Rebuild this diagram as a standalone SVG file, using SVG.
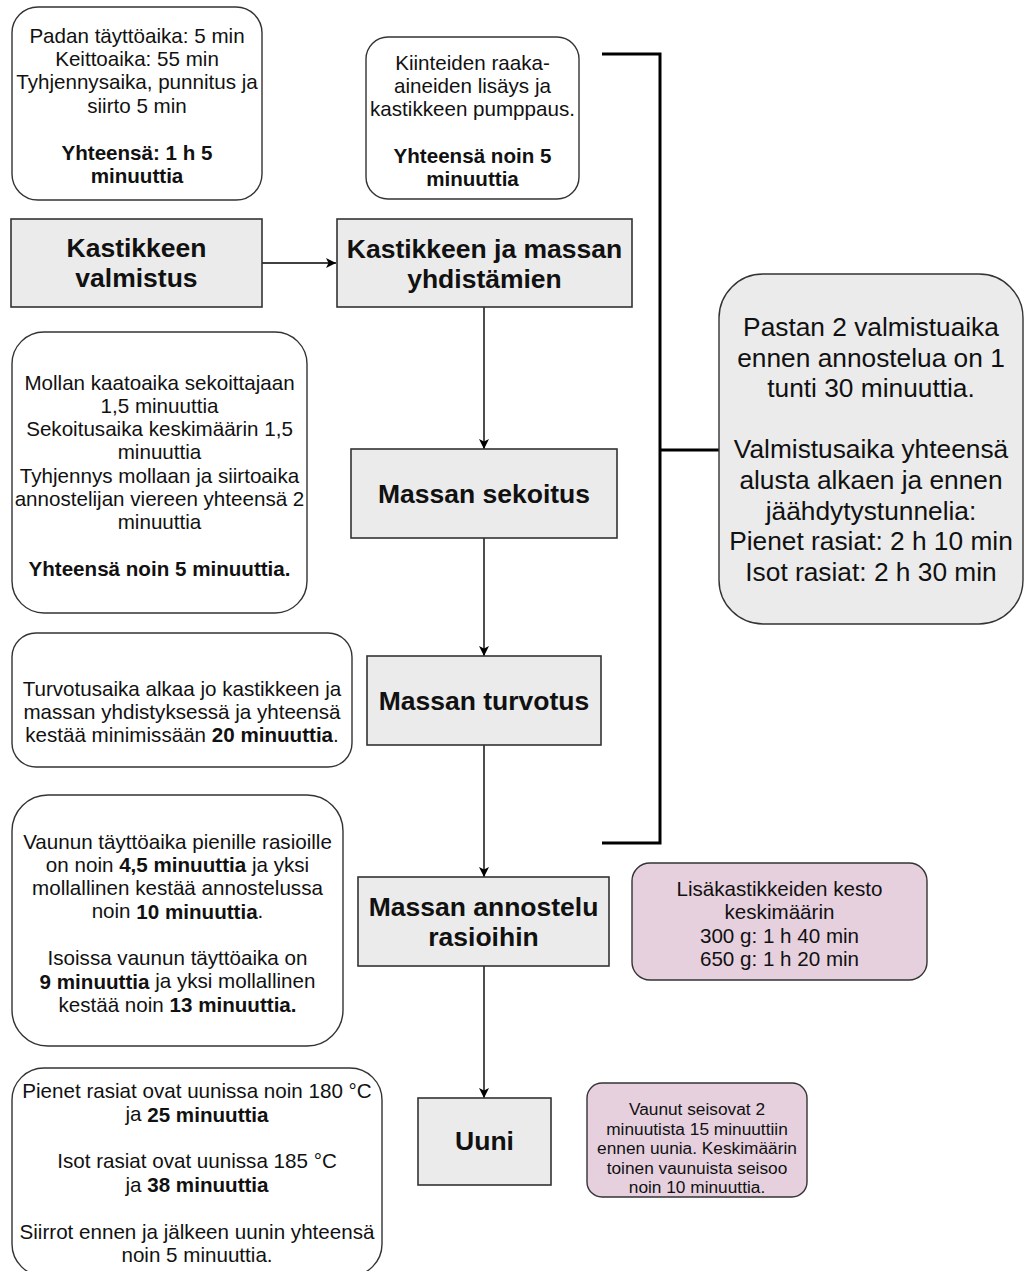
<svg xmlns="http://www.w3.org/2000/svg" width="1025" height="1271" viewBox="0 0 1025 1271">
<defs>
<style>
text{font-family:"Liberation Sans",Arial,Helvetica,sans-serif;fill:#111;text-anchor:middle;dominant-baseline:central}
.note{fill:#fff;stroke:#333;stroke-width:1.4}
.grey{fill:#ebebeb;stroke:#333;stroke-width:1.6}
.pink{fill:#e6d0de;stroke:#333;stroke-width:1.4}
.t{font-size:20.6px}
.s{font-size:17.3px}
.big{font-size:26.3px}
.lbl{font-size:26.5px;font-weight:bold}
.b{font-weight:bold}
.conn{stroke:#000;stroke-width:1.4;fill:none}
.br{stroke:#000;stroke-width:3;fill:none}
</style>
<marker id="arr" viewBox="0 0 10 10" refX="10" refY="5" markerWidth="10" markerHeight="10" markerUnits="userSpaceOnUse" orient="auto">
<path d="M0,0 L10,5 L0,10 L2.5,5 Z" fill="#000"/>
</marker>
</defs>
<rect width="1025" height="1271" fill="#fff"/>

<g id="connectors">
<line class="conn" x1="262" y1="263" x2="336" y2="263" marker-end="url(#arr)"/>
<line class="conn" x1="484" y1="307" x2="484" y2="449" marker-end="url(#arr)"/>
<line class="conn" x1="484" y1="538" x2="484" y2="656" marker-end="url(#arr)"/>
<line class="conn" x1="484" y1="745" x2="484" y2="877" marker-end="url(#arr)"/>
<line class="conn" x1="484" y1="966" x2="484" y2="1098" marker-end="url(#arr)"/>
<polyline class="br" points="602,54 660,54 660,843 602,843"/>
<line class="br" x1="660" y1="450" x2="719" y2="450"/>
</g>

<g id="note-padan">
<rect class="note" x="12" y="7" width="250" height="193" rx="26"/>
<text class="t" x="137" y="35">Padan täyttöaika: 5 min</text>
<text class="t" x="137" y="58.3">Keittoaika: 55 min</text>
<text class="t" x="137" y="81.6">Tyhjennysaika, punnitus ja</text>
<text class="t" x="137" y="105">siirto 5 min</text>
<text class="t b" x="137" y="152">Yhteensä: 1 h 5</text>
<text class="t b" x="137" y="175">minuuttia</text>
</g>

<g id="note-kiinteiden">
<rect class="note" x="366" y="37" width="213" height="162" rx="22"/>
<text class="t" x="472.5" y="62">Kiinteiden raaka-</text>
<text class="t" x="472.5" y="85.3">aineiden lisäys ja</text>
<text class="t" x="472.5" y="108.6">kastikkeen pumppaus.</text>
<text class="t b" x="472.5" y="155.3">Yhteensä noin 5</text>
<text class="t b" x="472.5" y="178.6">minuuttia</text>
</g>

<g id="node-kastikkeen-valmistus">
<rect class="grey" x="11" y="219" width="251" height="88"/>
<text class="lbl" x="136.5" y="248">Kastikkeen</text>
<text class="lbl" x="136.5" y="278">valmistus</text>
</g>

<g id="node-yhdistamien">
<rect class="grey" x="337" y="219" width="295" height="88"/>
<text class="lbl" x="484.5" y="249">Kastikkeen ja massan</text>
<text class="lbl" x="484.5" y="278.5">yhdistämien</text>
</g>

<g id="note-pastan">
<rect x="719" y="274" width="304" height="350" rx="44" fill="#ebebeb" stroke="#333" stroke-width="1.4"/>
<text class="big" x="871" y="327">Pastan 2 valmistuaika</text>
<text class="big" x="871" y="357.6">ennen annostelua on 1</text>
<text class="big" x="871" y="388.2">tunti 30 minuuttia.</text>
<text class="big" x="871" y="449.4">Valmistusaika yhteensä</text>
<text class="big" x="871" y="480">alusta alkaen ja ennen</text>
<text class="big" x="871" y="510.6">jäähdytystunnelia:</text>
<text class="big" x="871" y="541.2">Pienet rasiat: 2 h 10 min</text>
<text class="big" x="871" y="571.8">Isot rasiat: 2 h 30 min</text>
</g>

<g id="note-mollan">
<rect class="note" x="12" y="332" width="295" height="281" rx="32"/>
<text class="t" x="159.5" y="382">Mollan kaatoaika sekoittajaan</text>
<text class="t" x="159.5" y="405.3">1,5 minuuttia</text>
<text class="t" x="159.5" y="428.6">Sekoitusaika keskimäärin 1,5</text>
<text class="t" x="159.5" y="451.9">minuuttia</text>
<text class="t" x="159.5" y="475.2">Tyhjennys mollaan ja siirtoaika</text>
<text class="t" x="159.5" y="498.5">annostelijan viereen yhteensä 2</text>
<text class="t" x="159.5" y="521.8">minuuttia</text>
<text class="t b" x="159.5" y="568.4">Yhteensä noin 5 minuuttia.</text>
</g>

<g id="node-sekoitus">
<rect class="grey" x="351" y="449" width="266" height="89"/>
<text class="lbl" x="484" y="493.5">Massan sekoitus</text>
</g>

<g id="note-turvotus">
<rect class="note" x="12" y="633" width="340" height="134" rx="24"/>
<text class="t" x="182" y="688">Turvotusaika alkaa jo kastikkeen ja</text>
<text class="t" x="182" y="711">massan yhdistyksessä ja yhteensä</text>
<text class="t" x="182" y="734">kestää minimissään <tspan class="b">20 minuuttia</tspan>.</text>
</g>

<g id="node-turvotus">
<rect class="grey" x="367" y="656" width="234" height="89"/>
<text class="lbl" x="484" y="700.5">Massan turvotus</text>
</g>

<g id="note-vaunun">
<rect class="note" x="12" y="795" width="331" height="251" rx="36"/>
<text class="t" x="177.5" y="841">Vaunun täyttöaika pienille rasioille</text>
<text class="t" x="177.5" y="864.3">on noin <tspan class="b">4,5 minuuttia</tspan> ja yksi</text>
<text class="t" x="177.5" y="887.6">mollallinen kestää annostelussa</text>
<text class="t" x="177.5" y="910.9">noin <tspan class="b">10 minuuttia</tspan>.</text>
<text class="t" x="177.5" y="957.5">Isoissa vaunun täyttöaika on</text>
<text class="t" x="177.5" y="980.8"><tspan class="b">9 minuuttia</tspan> ja yksi mollallinen</text>
<text class="t" x="177.5" y="1004.1">kestää noin <tspan class="b">13 minuuttia.</tspan></text>
</g>

<g id="node-annostelu">
<rect class="grey" x="358" y="877" width="251" height="89"/>
<text class="lbl" x="483.5" y="907">Massan annostelu</text>
<text class="lbl" x="483.5" y="937">rasioihin</text>
</g>

<g id="note-lisakastikkeet">
<rect class="pink" x="632" y="863" width="295" height="117" rx="18"/>
<text class="t" x="779.5" y="888">Lisäkastikkeiden kesto</text>
<text class="t" x="779.5" y="911.5">keskimäärin</text>
<text class="t" x="779.5" y="935">300 g: 1 h 40 min</text>
<text class="t" x="779.5" y="958">650 g: 1 h 20 min</text>
</g>

<g id="note-uuni">
<rect class="note" x="12" y="1068" width="370" height="208" rx="32"/>
<text class="t" x="197" y="1090">Pienet rasiat ovat uunissa noin 180 °C</text>
<text class="t" x="197" y="1113.5">ja <tspan class="b">25 minuuttia</tspan></text>
<text class="t" x="197" y="1160.5">Isot rasiat ovat uunissa 185 °C</text>
<text class="t" x="197" y="1184">ja <tspan class="b">38 minuuttia</tspan></text>
<text class="t" x="197" y="1231">Siirrot ennen ja jälkeen uunin yhteensä</text>
<text class="t" x="197" y="1254.5">noin 5 minuuttia.</text>
</g>

<g id="node-uuni">
<rect class="grey" x="418" y="1098" width="133" height="87"/>
<text class="lbl" x="484.5" y="1141">Uuni</text>
</g>

<g id="note-vaunut">
<rect class="pink" x="587" y="1083" width="220" height="114" rx="15"/>
<text class="s" x="697" y="1109">Vaunut seisovat 2</text>
<text class="s" x="697" y="1128.5">minuutista 15 minuuttiin</text>
<text class="s" x="697" y="1148">ennen uunia. Keskimäärin</text>
<text class="s" x="697" y="1167.5">toinen vaunuista seisoo</text>
<text class="s" x="697" y="1187">noin 10 minuuttia.</text>
</g>
</svg>
